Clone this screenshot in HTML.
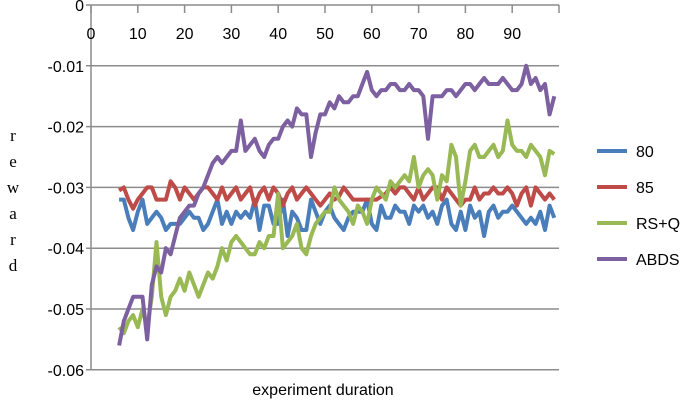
<!DOCTYPE html>
<html><head><meta charset="utf-8"><style>
body{margin:0;background:#fff;}
svg{display:block;font-family:"Liberation Sans",sans-serif;}
</style></head><body>
<svg id="chart" width="685" height="401"></svg>
<script>
const xStart = 6;
const xTicks = [0,10,20,30,40,50,60,70,80,90];
const yTicks = [0,-0.01,-0.02,-0.03,-0.04,-0.05,-0.06];
const yTickLabels = ["0","-0.01","-0.02","-0.03","-0.04","-0.05","-0.06"];
const seriesNames = ["80","85","RS+Q","ABDS"];
const s80 = [-0.032,-0.032,-0.035,-0.037,-0.034,-0.032,-0.036,-0.035,-0.034,-0.035,-0.037,-0.036,-0.036,-0.036,-0.035,-0.034,-0.035,-0.035,-0.037,-0.036,-0.034,-0.032,-0.036,-0.034,-0.036,-0.034,-0.035,-0.034,-0.035,-0.032,-0.037,-0.033,-0.033,-0.036,-0.036,-0.032,-0.038,-0.034,-0.035,-0.037,-0.037,-0.032,-0.034,-0.036,-0.034,-0.033,-0.035,-0.036,-0.037,-0.035,-0.034,-0.034,-0.034,-0.032,-0.036,-0.037,-0.033,-0.035,-0.035,-0.033,-0.034,-0.034,-0.036,-0.033,-0.034,-0.033,-0.035,-0.034,-0.036,-0.033,-0.032,-0.036,-0.037,-0.034,-0.037,-0.033,-0.035,-0.034,-0.038,-0.034,-0.033,-0.035,-0.034,-0.034,-0.033,-0.034,-0.035,-0.036,-0.035,-0.036,-0.034,-0.037,-0.033,-0.035];
const s85 = [-0.0305,-0.030,-0.032,-0.0335,-0.032,-0.031,-0.030,-0.030,-0.032,-0.032,-0.032,-0.029,-0.030,-0.032,-0.030,-0.031,-0.032,-0.031,-0.030,-0.030,-0.031,-0.032,-0.030,-0.032,-0.031,-0.030,-0.032,-0.031,-0.030,-0.033,-0.031,-0.030,-0.032,-0.030,-0.031,-0.033,-0.031,-0.030,-0.032,-0.031,-0.030,-0.031,-0.032,-0.033,-0.032,-0.031,-0.032,-0.0315,-0.030,-0.031,-0.032,-0.032,-0.032,-0.032,-0.032,-0.032,-0.0315,-0.031,-0.030,-0.031,-0.030,-0.030,-0.031,-0.032,-0.030,-0.032,-0.031,-0.030,-0.030,-0.032,-0.030,-0.031,-0.032,-0.033,-0.032,-0.032,-0.030,-0.032,-0.031,-0.031,-0.030,-0.031,-0.031,-0.030,-0.031,-0.033,-0.031,-0.030,-0.033,-0.030,-0.031,-0.032,-0.031,-0.032];
const sRSQ = [-0.053,-0.054,-0.052,-0.051,-0.053,-0.050,-0.053,-0.048,-0.039,-0.048,-0.051,-0.048,-0.047,-0.045,-0.047,-0.044,-0.046,-0.048,-0.046,-0.044,-0.045,-0.043,-0.040,-0.042,-0.039,-0.038,-0.039,-0.040,-0.041,-0.041,-0.039,-0.040,-0.038,-0.038,-0.031,-0.040,-0.039,-0.038,-0.036,-0.040,-0.041,-0.038,-0.036,-0.035,-0.034,-0.034,-0.030,-0.032,-0.033,-0.034,-0.036,-0.033,-0.034,-0.036,-0.032,-0.030,-0.031,-0.032,-0.029,-0.030,-0.029,-0.028,-0.029,-0.025,-0.030,-0.028,-0.027,-0.028,-0.032,-0.028,-0.029,-0.023,-0.025,-0.033,-0.029,-0.024,-0.023,-0.025,-0.025,-0.024,-0.023,-0.025,-0.024,-0.019,-0.023,-0.024,-0.024,-0.025,-0.023,-0.024,-0.025,-0.028,-0.024,-0.0245];
const sABDS = [-0.056,-0.052,-0.050,-0.048,-0.048,-0.048,-0.055,-0.046,-0.043,-0.044,-0.040,-0.041,-0.038,-0.035,-0.034,-0.033,-0.033,-0.031,-0.030,-0.028,-0.026,-0.025,-0.026,-0.025,-0.024,-0.024,-0.019,-0.024,-0.023,-0.022,-0.024,-0.025,-0.023,-0.022,-0.022,-0.020,-0.019,-0.020,-0.017,-0.018,-0.018,-0.025,-0.021,-0.018,-0.018,-0.016,-0.017,-0.015,-0.016,-0.016,-0.015,-0.015,-0.013,-0.011,-0.014,-0.015,-0.014,-0.014,-0.013,-0.013,-0.014,-0.014,-0.013,-0.014,-0.014,-0.015,-0.022,-0.015,-0.015,-0.015,-0.014,-0.014,-0.015,-0.014,-0.013,-0.013,-0.014,-0.013,-0.012,-0.013,-0.013,-0.013,-0.012,-0.013,-0.014,-0.014,-0.013,-0.010,-0.013,-0.012,-0.014,-0.013,-0.018,-0.015];

const svg = document.getElementById('chart');
const NS = 'http://www.w3.org/2000/svg';
const X0 = 91, XPER = 4.68, Y0 = 5, YPER = 6080; // px per unit reward
const xs = v => X0 + v * XPER;
const ys = v => Y0 - v * YPER;
function mk(tag, attrs, parent){const e=document.createElementNS(NS,tag);for(const k in attrs)e.setAttribute(k,attrs[k]);(parent||svg).appendChild(e);return e;}

// gridlines + y labels
yTicks.forEach((t,i)=>{
  const g = mk('line',{x1:86,x2:559,y1:ys(t),y2:ys(t),stroke:'#8c8c8c','stroke-width':1.5});
  
  
  const tx = mk('text',{x:84,y:ys(t)+6,'text-anchor':'end','font-size':16,fill:'#000'});
  tx.textContent = yTickLabels[i];
  
  
});
// left axis
const la = mk('line',{x1:X0,x2:X0,y1:Y0,y2:370,stroke:'#8c8c8c','stroke-width':1.5});


// x ticks
xTicks.forEach(t=>{
  const tk = mk('line',{x1:xs(t),x2:xs(t),y1:Y0,y2:Y0+8,stroke:'#8c8c8c','stroke-width':1.5});
  
  
  const tx = mk('text',{x:xs(t),y:39,'text-anchor':'middle','font-size':16,fill:'#000'});
  tx.textContent = String(t);
  
  
});
const rt = mk('line',{x1:559,x2:559,y1:Y0,y2:Y0+8,stroke:'#8c8c8c','stroke-width':1.5});



const colors = ['#4a7ebb','#be4b48','#98b954','#7d60a0'];
const all = [s80,s85,sRSQ,sABDS];
all.forEach((s,k)=>{
  const pts = s.map((v,i)=>xs(xStart+i).toFixed(1)+','+ys(v).toFixed(1)).join(' ');
  const pl = mk('polyline',{points:pts,fill:'none',stroke:colors[k],'stroke-width':4,'stroke-linejoin':'round'});
  
  
});
// legend
const ly=[151,187,223,259];
seriesNames.forEach((n,k)=>{
  const l = mk('line',{x1:597,x2:627,y1:ly[k],y2:ly[k],stroke:colors[k],'stroke-width':4});
  
  
  const t = mk('text',{x:636,y:ly[k]+6,'font-size':16,fill:'#000'});
  t.textContent = n;
  
  
});
// axis titles
const ytitle = ['r','e','w','a','r','d'];
ytitle.forEach((c,i)=>{
  const t = mk('text',{x:13,y:141+i*26,'text-anchor':'middle','font-size':17,'font-family':'Liberation Serif, serif',fill:'#000'});
  t.textContent = c;
  
  
});
const xt = mk('text',{x:323,y:395,'text-anchor':'middle','font-size':16,fill:'#000'});
xt.textContent = 'experiment duration';


</script>
</body></html>
